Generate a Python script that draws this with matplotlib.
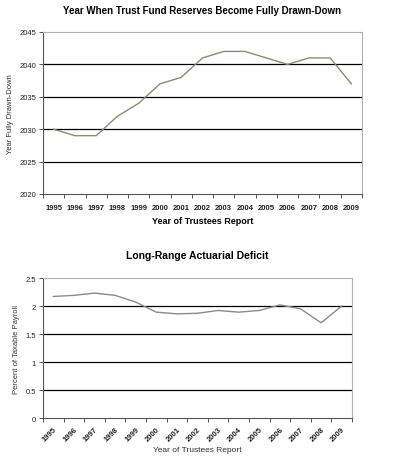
import matplotlib
matplotlib.use("Agg")
import matplotlib.pyplot as plt
import numpy as np

years = ["1995", "1996", "1997", "1998", "1999", "2000", "2001", "2002",
         "2003", "2004", "2005", "2006", "2007", "2008", "2009"]
drawdown_year = [2030, 2029, 2029, 2032, 2034, 2037, 2038, 2041,
                 2042, 2042, 2041, 2040, 2041, 2041, 2037]
deficit = [2.17, 2.19, 2.23, 2.19, 2.07, 1.89, 1.86, 1.87,
           1.92, 1.89, 1.92, 2.02, 1.95, 1.70, 2.00]

plt.rcParams['font.family'] = ['Liberation Sans', 'DejaVu Sans']

fig = plt.figure(figsize=(3.99, 4.64), dpi=100)
W, H = 399, 464


def frame(ax):
    for s in ax.spines.values():
        s.set_color('#b0b0b0')
        s.set_linewidth(0.8)
    ax.spines['left'].set_color('#555555')
    ax.spines['bottom'].set_color('#555555')
    ax.tick_params(axis='both', which='both', colors='#555555', length=3,
                   width=0.7, labelcolor='#222222', labelsize=5.5, pad=2)


x = np.arange(len(years))

# top chart
ax1 = fig.add_axes([43 / W, 1 - 195 / H, (362 - 43) / W, (195 - 33) / H])
ax1.plot(x, drawdown_year, color='#8c8c6a', lw=1.0)
ax1.set_xlim(-0.5, len(years) - 0.5)
ax1.set_ylim(2020, 2045)
ax1.set_yticks(range(2020, 2046, 5))
for v in range(2025, 2045, 5):
    ax1.axhline(v, color='black', lw=0.9, zorder=0)
ax1.set_xticks(np.arange(-0.5, len(years), 1))
ax1.set_xticklabels([])
ax1.set_xticks(x, minor=True)
ax1.set_xticklabels(years, minor=True, fontweight='bold')
frame(ax1)
ax1.tick_params(axis='x', which='minor', length=0, pad=7)
ax1.set_title('Year When Trust Fund Reserves Become Fully Drawn-Down',
              fontsize=7, fontweight='bold', pad=13.5)
ax1.set_xlabel('Year of Trustees Report', fontsize=6.5, fontweight='bold',
               labelpad=3.5)
ax1.set_ylabel('Year Fully Drawn-Down', fontsize=5.5, color='#333333',
               labelpad=4)

# bottom chart
ax2 = fig.add_axes([43 / W, 1 - 419 / H, (352 - 43) / W, (419 - 279) / H])
ax2.plot(x, deficit, color='#8a8a8a', lw=1.0)
ax2.set_xlim(-0.5, len(years) - 0.5)
ax2.set_ylim(0, 2.5)
ax2.set_yticks([0, 0.5, 1, 1.5, 2, 2.5])
ax2.set_yticklabels(['0', '0.5', '1', '1.5', '2', '2.5'])
for v in [0.5, 1, 1.5, 2]:
    ax2.axhline(v, color='black', lw=0.9, zorder=0)
ax2.set_xticks(np.arange(-0.5, len(years), 1))
ax2.set_xticklabels([])
ax2.set_xticks(x, minor=True)
ax2.set_xticklabels(years, minor=True, rotation=45, ha='right',
                    rotation_mode='anchor', fontweight='bold')
frame(ax2)
ax2.tick_params(axis='x', which='minor', length=0, pad=5)
ax2.set_title('Long-Range Actuarial Deficit', fontsize=7.5,
              fontweight='bold', pad=14.5)
ax2.set_xlabel('Year of Trustees Report', fontsize=6, color='#333333',
               labelpad=3)
ax2.set_ylabel('Percent of Taxable Payroll', fontsize=5.5, color='#333333',
               labelpad=4)

fig.savefig('out.png', dpi=100)
